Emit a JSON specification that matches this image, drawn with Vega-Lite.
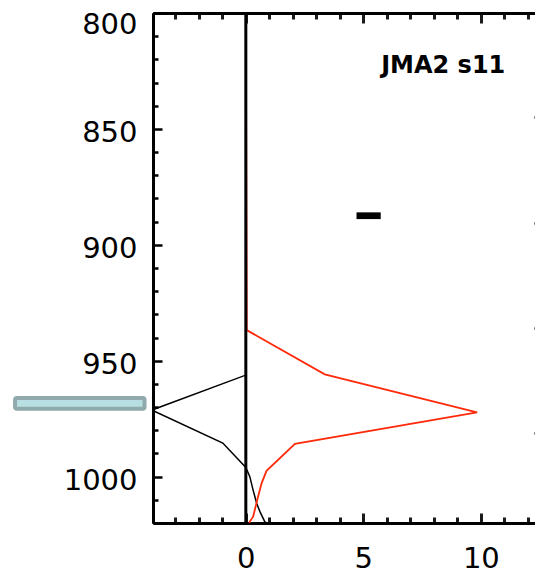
{
  "$schema": "https://vega.github.io/schema/vega-lite/v6.json",
  "autosize": "none",
  "padding": {"left": 153, "top": 13, "right": 0, "bottom": 51},
  "width": 382,
  "height": 510,
  "background": "white",
  "config": {
    "view": {"stroke": null},
    "axis": {
      "grid": false,
      "title": null,
      "domainColor": "black",
      "domainWidth": 3,
      "tickColor": "black",
      "tickWidth": 2.5,
      "labelFont": "DejaVu Sans",
      "labelFontSize": 29,
      "labelColor": "black",
      "labelFlush": false,
      "labelOverlap": false,
      "labelBound": false
    }
  },
  "datasets": {
    "profiles": [
      {"series": "black", "p": 800, "v": 0},
      {"series": "black", "p": 956.2, "v": 0},
      {"series": "black", "p": 971.3, "v": -4.0},
      {"series": "black", "p": 985.5, "v": -0.98},
      {"series": "black", "p": 996.0, "v": 0},
      {"series": "black", "p": 1000.0, "v": 0.17},
      {"series": "black", "p": 1005.8, "v": 0.31},
      {"series": "black", "p": 1011.5, "v": 0.46},
      {"series": "black", "p": 1015.1, "v": 0.6},
      {"series": "black", "p": 1019.5, "v": 0.81},
      {"series": "black", "p": 1020, "v": 0.9},
      {"series": "red", "p": 800, "v": 0},
      {"series": "red", "p": 936.8, "v": 0.04},
      {"series": "red", "p": 955.9, "v": 3.36},
      {"series": "red", "p": 972.3, "v": 9.84},
      {"series": "red", "p": 985.9, "v": 2.09},
      {"series": "red", "p": 997.5, "v": 0.88},
      {"series": "red", "p": 1002.9, "v": 0.67},
      {"series": "red", "p": 1008.7, "v": 0.52},
      {"series": "red", "p": 1017.3, "v": 0.31},
      {"series": "red", "p": 1019.4, "v": 0.17},
      {"series": "red", "p": 1020, "v": 0.15}
    ]
  },
  "layer": [
    {
      "data": {"name": "profiles"},
      "transform": [{"filter": "datum.series === 'black'"}],
      "mark": {"type": "line", "color": "black", "strokeWidth": 1.5, "clip": true},
      "encoding": {
        "x": {
          "field": "v", "type": "quantitative",
          "scale": {"domain": [-3.95, 12.305], "nice": false, "zero": false},
          "axis": {
            "orient": "bottom",
            "values": [0, 5, 10],
            "format": "d",
            "tickSize": -10,
            "tickWidth": 3,
            "tickColor": "#1a1a1a",
            "labelPadding": 31
          }
        },
        "y": {
          "field": "p", "type": "quantitative",
          "scale": {"domain": [800, 1020], "reverse": true, "nice": false, "zero": false},
          "axis": {
            "orient": "left",
            "values": [800, 850, 900, 950, 1000],
            "format": "d",
            "tickSize": -9,
            "labelPadding": 25,
            "labelOffset": {"condition": {"test": "datum.value === 800", "value": 11}, "value": 4}
          }
        },
        "order": {"field": "p", "type": "quantitative"}
      }
    },
    {
      "data": {"name": "profiles"},
      "transform": [{"filter": "datum.series === 'red'"}],
      "mark": {"type": "line", "color": "#ff2a0a", "strokeWidth": 1.8, "clip": true},
      "encoding": {
        "x": {
          "field": "v", "type": "quantitative",
          "scale": {"domain": [-3.95, 12.305], "nice": false, "zero": false},
          "axis": {
            "orient": "top",
            "values": [0, 5, 10],
            "labels": false,
            "tickSize": -10,
            "tickWidth": 3,
            "tickColor": "#1a1a1a"
          }
        },
        "y": {
          "field": "p", "type": "quantitative",
          "scale": {"domain": [800, 1020], "reverse": true, "nice": false, "zero": false},
          "axis": {
            "orient": "right",
            "offset": 8,
            "values": [845, 890.6, 935.9, 981.2],
            "labels": false,
            "tickSize": -9
          }
        },
        "order": {"field": "p", "type": "quantitative"}
      }
    },
    {
      "data": {"values": [{"z": 0}]},
      "mark": {"type": "rule", "color": "black", "strokeWidth": 3},
      "encoding": {
        "x": {
          "field": "z", "type": "quantitative",
          "axis": {
            "orient": "bottom",
            "values": [-3, -2, -1, 1, 2, 3, 4, 6, 7, 8, 9, 11, 12],
            "labels": false,
            "tickSize": -6,
            "tickWidth": 3,
            "tickColor": "#1a1a1a"
          }
        }
      }
    },
    {
      "data": {"values": [{"v1": 4.71, "v2": 5.74, "p1": 886.0, "p2": 888.9}]},
      "mark": {"type": "rect", "color": "black"},
      "encoding": {
        "x": {
          "field": "v1", "type": "quantitative",
          "axis": {
            "orient": "top",
            "values": [-3, -2, -1, 1, 2, 3, 4, 6, 7, 8, 9, 11, 12],
            "labels": false,
            "tickSize": -6,
            "tickWidth": 3,
            "tickColor": "#1a1a1a"
          }
        },
        "x2": {"field": "v2"},
        "y": {
          "field": "p1", "type": "quantitative",
          "axis": {
            "orient": "left",
            "values": [810, 820, 830, 840, 860, 870, 880, 890, 910, 920, 930, 940, 960, 970, 980, 990, 1010],
            "labels": false,
            "tickSize": -5
          }
        },
        "y2": {"field": "p2"}
      }
    },
    {
      "data": {"values": [{"v1": -9.82, "v2": -4.31, "p1": 966.1, "p2": 970.7}]},
      "mark": {"type": "rect", "fill": "#b8e0e2", "stroke": "#90a9ab", "strokeWidth": 4, "cornerRadius": 2, "clip": false},
      "encoding": {
        "x": {"field": "v1", "type": "quantitative", "axis": null},
        "x2": {"field": "v2"},
        "y": {"field": "p1", "type": "quantitative", "axis": null},
        "y2": {"field": "p2"}
      }
    },
    {
      "data": {"values": [{"label": "JMA2 s11", "v": 8.40, "p": 822.9}]},
      "mark": {"type": "text", "font": "DejaVu Sans", "fontWeight": "bold", "fontSize": 24, "color": "black", "align": "center", "baseline": "middle"},
      "encoding": {
        "x": {"field": "v", "type": "quantitative", "axis": null},
        "y": {"field": "p", "type": "quantitative", "axis": null},
        "text": {"field": "label"}
      }
    }
  ],
  "resolve": {"axis": {"x": "independent", "y": "independent"}}
}
